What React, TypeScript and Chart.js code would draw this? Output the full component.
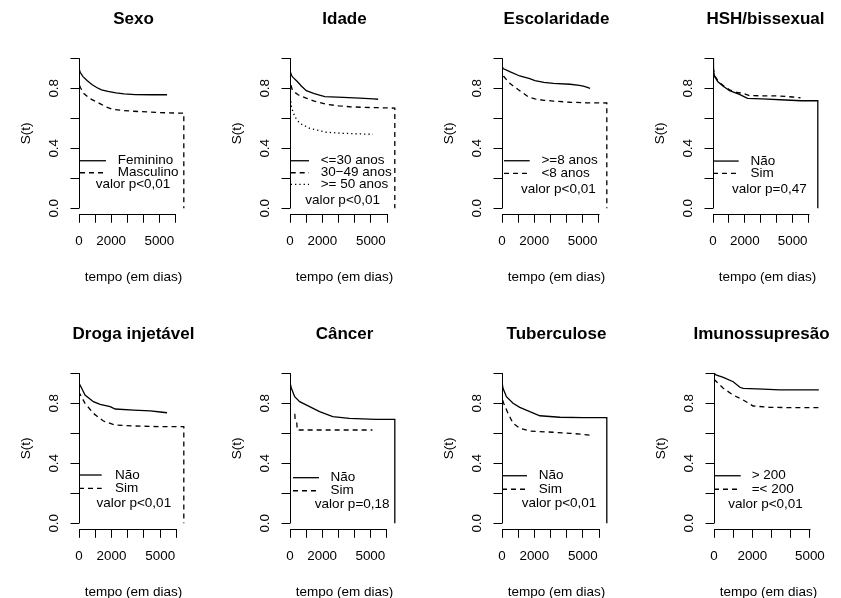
import React, { useEffect, useRef } from 'react';
import { Chart, registerables } from 'chart.js';

Chart.register(...registerables);

const FONT = "'Liberation Sans', Arial, Helvetica, sans-serif";

// ---------- data: [tempo (dias), S(t)] ----------
const sexoFeminino = [[0, 1], [15, 0.93], [80, 0.905], [250, 0.878], [500, 0.852], [800, 0.825], [1100, 0.805], [1400, 0.79], [1800, 0.78], [2300, 0.77], [2800, 0.763], [3500, 0.758], [4500, 0.757], [5480, 0.757]];
const sexoMasculino = [[0, 1], [10, 0.83], [60, 0.81], [300, 0.765], [700, 0.73], [1300, 0.698], [1700, 0.675], [2100, 0.66], [2700, 0.652], [3400, 0.647], [4300, 0.642], [5000, 0.638], [6000, 0.635], [6520, 0.635], [6520, 0]];

const idadeAte30 = [[0, 1], [15, 0.91], [100, 0.885], [186, 0.873], [450, 0.845], [700, 0.815], [1010, 0.784], [1500, 0.765], [2150, 0.744], [3290, 0.74], [4300, 0.735], [5150, 0.729], [5450, 0.727]];
const idade30a49 = [[0, 1], [15, 0.84], [150, 0.785], [500, 0.757], [1000, 0.735], [1500, 0.715], [2250, 0.693], [3000, 0.683], [3700, 0.677], [4500, 0.673], [5340, 0.671], [6480, 0.668], [6480, 0]];
const idade50mais = [[0, 1], [10, 0.75], [100, 0.67], [300, 0.61], [600, 0.567], [1220, 0.533], [2250, 0.507], [3290, 0.5], [5130, 0.493]];

const escMaior8 = [[0, 1], [10, 0.94], [100, 0.93], [480, 0.911], [1100, 0.882], [1720, 0.864], [2040, 0.851], [2600, 0.84], [3180, 0.833], [4220, 0.827], [4800, 0.82], [5040, 0.815], [5250, 0.808], [5460, 0.8]];
const escMenor8 = [[0, 1], [10, 0.9], [100, 0.88], [480, 0.833], [1100, 0.784], [1620, 0.744], [2040, 0.729], [2600, 0.72], [3180, 0.715], [4220, 0.707], [5300, 0.703], [6500, 0.702], [6500, 0]];

const hshNao = [[0, 1], [30, 0.92], [105, 0.877], [310, 0.844], [620, 0.815], [1040, 0.784], [1660, 0.76], [2170, 0.733], [3060, 0.729], [4560, 0.722], [5530, 0.717], [6580, 0.717], [6580, 0]];
const hshSim = [[0, 1], [30, 0.93], [105, 0.885], [310, 0.85], [620, 0.82], [1040, 0.79], [1500, 0.772], [1860, 0.767], [2280, 0.751], [4140, 0.749], [5000, 0.742], [5490, 0.737]];

const drogaNao = [[0, 1], [20, 0.93], [165, 0.9], [371, 0.855], [886, 0.811], [1300, 0.793], [1917, 0.778], [2226, 0.762], [3360, 0.755], [4390, 0.749], [5000, 0.742], [5420, 0.737]];
const drogaSim = [[0, 1], [15, 0.87], [371, 0.8], [886, 0.733], [1500, 0.682], [2226, 0.655], [3360, 0.649], [5010, 0.644], [6450, 0.644], [6450, 0]];

const cancerNao = [[0, 1], [20, 0.93], [87, 0.9], [290, 0.844], [600, 0.811], [1220, 0.778], [1840, 0.744], [2660, 0.711], [3690, 0.7], [5340, 0.693], [6520, 0.693], [6520, 0]];
const cancerSim = [[0, 1], [5, 0.73], [300, 0.727], [320, 0.689], [420, 0.675], [450, 0.622], [5130, 0.622]];

const tbNao = [[0, 1], [20, 0.93], [62, 0.9], [273, 0.844], [683, 0.8], [1100, 0.773], [1720, 0.744], [2340, 0.717], [3580, 0.707], [5020, 0.704], [6480, 0.704], [6480, 0]];
const tbSim = [[0, 1], [10, 0.83], [105, 0.8], [373, 0.733], [683, 0.667], [1100, 0.633], [1720, 0.615], [3170, 0.607], [4200, 0.6], [5000, 0.593], [5450, 0.587]];

const imunoMaior200 = [[0, 1], [100, 0.99], [483, 0.973], [1000, 0.944], [1350, 0.907], [1520, 0.9], [2560, 0.895], [3425, 0.889], [5465, 0.889]];
const imunoMenor200 = [[0, 0.96], [483, 0.9], [1000, 0.855], [1520, 0.822], [2040, 0.782], [2900, 0.773], [4290, 0.771], [5465, 0.771]];

// ---------- texts / ticks ----------
const titles = ['Sexo', 'Idade', 'Escolaridade', 'HSH/bissexual', 'Droga injetável', 'Câncer', 'Tuberculose', 'Imunossupresão'];
const groupLabels = [
  ['Feminino', 'Masculino'],
  ['<=30 anos', '30\u221249 anos', '>= 50 anos'],
  ['>=8 anos', '<8 anos'],
  ['Não', 'Sim'],
  ['Não', 'Sim'],
  ['Não', 'Sim'],
  ['Não', 'Sim'],
  ['> 200', '=< 200'],
];
const pValues = ['valor p<0,01', 'valor p<0,01', 'valor p<0,01', 'valor p=0,47', 'valor p<0,01', 'valor p=0,18', 'valor p<0,01', 'valor p<0,01'];
const seriesData = [
  [sexoFeminino, sexoMasculino],
  [idadeAte30, idade30a49, idade50mais],
  [escMaior8, escMenor8],
  [hshNao, hshSim],
  [drogaNao, drogaSim],
  [cancerNao, cancerSim],
  [tbNao, tbSim],
  [imunoMaior200, imunoMenor200],
];
const xTickValues = [0, 1000, 2000, 3000, 4000, 5000, 6000];
const xTickLabels = [0, 2000, 5000];
const yTickValues = [0, 0.2, 0.4, 0.6, 0.8, 1.0];
const yTickLabels = [0, 0.4, 0.8];
const xLabel = 'tempo (em dias)';
const yLabel = 'S(t)';

// ---------- layout (positions / styles) ----------
const DASHES = [[], [5, 4], [1.3, 3]];
const panelLayout = [
  { left: 0, top: 0, titleShift: 0, lineFrom: 1, lineTo: 27, textX: 38.7, rows: [0.317, 0.237], pY: 0.16, pX: 54 },
  { left: 211.3, top: 0, titleShift: 0, lineFrom: 0.7, lineTo: 19, textX: 30.7, rows: [0.317, 0.237, 0.16], pY: 0.055, pX: 52.7 },
  { left: 423.3, top: 0, titleShift: 0, lineFrom: 2, lineTo: 27.7, textX: 39.4, rows: [0.317, 0.233], pY: 0.127, pX: 56.4 },
  { left: 634.3, top: 0, titleShift: 2, lineFrom: 0, lineTo: 25.7, textX: 37.4, rows: [0.315, 0.233], pY: 0.127, pX: 56.4 },
  { left: 0, top: 315, titleShift: 0, lineFrom: 0, lineTo: 22.7, textX: 36, rows: [0.322, 0.233], pY: 0.133, pX: 54.8 },
  { left: 211.3, top: 315, titleShift: 0, lineFrom: 3, lineTo: 29, textX: 40.4, rows: [0.304, 0.217], pY: 0.129, pX: 62.2 },
  { left: 423.3, top: 315, titleShift: 0, lineFrom: 0, lineTo: 25, textX: 36.7, rows: [0.317, 0.227], pY: 0.133, pX: 57 },
  { left: 635, top: 315, titleShift: 7, lineFrom: 0, lineTo: 26.7, textX: 37.7, rows: [0.317, 0.227], pY: 0.129, pX: 51.5 },
];

const CW = 267;
const CH = 290;
const AXIS_W = 79;

function Panel({ idx }: { idx: number }) {
  const ref = useRef<HTMLCanvasElement | null>(null);
  useEffect(() => {
    if (!ref.current) return;
    const lay = panelLayout[idx];
    const series = seriesData[idx];
    const labels = groupLabels[idx];
    let tmax = 0;
    series.forEach((s) => s.forEach(([t]) => { if (t > tmax) tmax = t; }));
    const xmax = tmax * 1.04;
    const padR = lay.titleShift * 2;

    const rAxes = {
      id: 'rAxes',
      afterDraw(chart: any) {
        const { ctx, chartArea } = chart;
        const xs = chart.scales.x;
        const ys = chart.scales.y;
        const xt = xs.ticks.map((t: any) => t.value);
        const yt = ys.ticks.map((t: any) => t.value);
        ctx.save();
        ctx.strokeStyle = '#000';
        ctx.lineWidth = 1;
        ctx.beginPath();
        const yb = Math.round(chartArea.bottom) + 0.5;
        ctx.moveTo(Math.round(xs.getPixelForValue(xt[0])) + 0.5, yb);
        ctx.lineTo(Math.round(xs.getPixelForValue(xt[xt.length - 1])) + 0.5, yb);
        const xl = Math.round(chartArea.left) + 0.5;
        ctx.moveTo(xl, Math.round(ys.getPixelForValue(yt[0])) + 0.5);
        ctx.lineTo(xl, Math.round(ys.getPixelForValue(yt[yt.length - 1])) + 0.5);
        ctx.stroke();
        ctx.restore();
      },
    };

    const rLegend = {
      id: 'rLegend',
      afterDatasetsDraw(chart: any) {
        const { ctx, chartArea } = chart;
        const ys = chart.scales.y;
        const L = chartArea.left;
        ctx.save();
        ctx.font = `13.5px ${FONT}`;
        ctx.fillStyle = '#000';
        ctx.strokeStyle = '#000';
        ctx.textBaseline = 'middle';
        labels.forEach((lab, i) => {
          const py = ys.getPixelForValue(lay.rows[i]);
          ctx.setLineDash(DASHES[i]);
          ctx.lineWidth = 1.3;
          ctx.beginPath();
          ctx.moveTo(L + lay.lineFrom, py);
          ctx.lineTo(L + lay.lineTo, py);
          ctx.stroke();
          ctx.setLineDash([]);
          ctx.textAlign = 'left';
          ctx.fillText(lab, L + lay.textX, py);
        });
        ctx.textAlign = 'center';
        ctx.fillText(pValues[idx], L + lay.pX, ys.getPixelForValue(lay.pY));
        ctx.restore();
      },
    };

    const chart = new Chart(ref.current, {
      type: 'line',
      data: {
        datasets: series.map((s, i) => ({
          label: labels[i],
          data: s.map(([x, y]) => ({ x, y })),
          borderColor: '#000',
          borderWidth: 1.3,
          borderDash: DASHES[i],
          pointRadius: 0,
          fill: false,
          tension: 0,
          yAxisID: 'y',
          xAxisID: 'x',
        })),
      },
      options: {
        animation: false,
        responsive: false,
        maintainAspectRatio: false,
        devicePixelRatio: 1,
        events: [],
        layout: { padding: { left: 0, right: padR, top: 0, bottom: 0 } },
        plugins: {
          legend: { display: false },
          tooltip: { enabled: false },
          title: {
            display: true,
            text: titles[idx],
            color: '#000',
            font: { family: FONT, size: 17, weight: 'bold' },
            padding: { top: 9, bottom: 22.9 },
          },
        },
        scales: {
          x: {
            type: 'linear',
            min: 0,
            max: xmax,
            border: { display: false },
            grid: { drawOnChartArea: false, drawTicks: true, tickLength: 8.5, color: '#000', lineWidth: 1 },
            afterBuildTicks: (s: any) => {
              s.ticks = xTickValues.filter((v) => v <= xmax).map((v) => ({ value: v }));
            },
            ticks: {
              autoSkip: false,
              maxRotation: 0,
              minRotation: 0,
              padding: 10.5,
              color: '#000',
              font: { family: FONT, size: 13.4 },
              callback: (v: any) => (xTickLabels.includes(Number(v)) ? String(v) : ''),
            },
            title: {
              display: true,
              text: xLabel,
              color: '#000',
              font: { family: FONT, size: 13.5 },
              padding: { top: 0, bottom: 4.9 },
            },
            afterFit: (s: any) => { s.height = CH - 214.3; },
          },
          y: {
            type: 'linear',
            position: 'left',
            min: -0.04,
            max: 1.04,
            border: { display: false },
            grid: { drawOnChartArea: false, drawTicks: true, tickLength: 8.5, color: '#000', lineWidth: 1 },
            afterBuildTicks: (s: any) => {
              s.ticks = yTickValues.map((v) => ({ value: v }));
            },
            ticks: {
              autoSkip: false,
              minRotation: 90,
              maxRotation: 90,
              crossAlign: 'center',
              padding: 7.2,
              color: '#000',
              font: { family: FONT, size: 13.4 },
              callback: (v: any) => {
                const n = Number(v);
                return yTickLabels.some((t) => Math.abs(t - n) < 1e-6) ? n.toFixed(1) : '';
              },
            },
            title: {
              display: true,
              text: yLabel,
              color: '#000',
              font: { family: FONT, size: 13.5 },
              padding: { top: 17.7, bottom: 0 },
            },
            afterFit: (s: any) => { s.width = AXIS_W; },
          },
          yr: {
            type: 'linear',
            position: 'right',
            display: true,
            min: 0,
            max: 1,
            border: { display: false },
            grid: { display: false, drawTicks: false },
            ticks: { display: false },
            title: { display: false },
            afterFit: (s: any) => { s.width = AXIS_W - padR; },
          },
        },
      } as any,
      plugins: [rAxes, rLegend],
    });
    return () => chart.destroy();
  }, [idx]);

  const lay = panelLayout[idx];
  return (
    <canvas
      ref={ref}
      width={CW}
      height={CH}
      style={{ position: 'absolute', left: lay.left, top: lay.top, width: CW, height: CH }}
    />
  );
}

export default function App() {
  return (
    <div
      style={{
        position: 'absolute',
        left: 0,
        top: 0,
        width: 841,
        height: 598,
        overflow: 'hidden',
        background: '#fff',
      }}
    >
      {titles.map((_, i) => (
        <Panel key={i} idx={i} />
      ))}
    </div>
  );
}
